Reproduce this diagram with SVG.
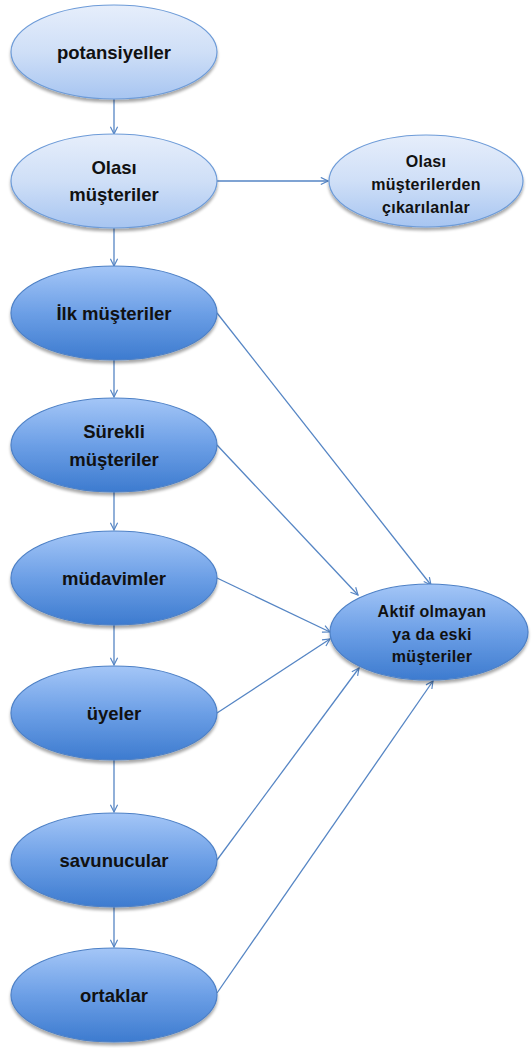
<svg xmlns="http://www.w3.org/2000/svg" width="532" height="1048" viewBox="0 0 532 1048">
  <defs>
    <linearGradient id="gLight" x1="0" y1="0" x2="0" y2="1">
      <stop offset="0" stop-color="#e6eefb"/>
      <stop offset="0.5" stop-color="#cfdff7"/>
      <stop offset="1" stop-color="#a7c5f1"/>
    </linearGradient>
    <linearGradient id="gDark" x1="0" y1="0" x2="0" y2="1">
      <stop offset="0" stop-color="#a4c6f7"/>
      <stop offset="0.5" stop-color="#6c9fe6"/>
      <stop offset="1" stop-color="#3d7bcf"/>
    </linearGradient>
    <filter id="shadow" x="-10%" y="-10%" width="120%" height="130%">
      <feGaussianBlur in="SourceAlpha" stdDeviation="1.6"/>
      <feOffset dx="0" dy="2.5" result="b"/>
      <feComponentTransfer><feFuncA type="linear" slope="0.35"/></feComponentTransfer>
      <feMerge><feMergeNode/><feMergeNode in="SourceGraphic"/></feMerge>
    </filter>
    <marker id="arrow" viewBox="0 0 10 10" markerWidth="9" markerHeight="9" refX="9" refY="5" orient="auto" markerUnits="userSpaceOnUse">
      <path d="M1,1 L9,5 L1,9" fill="none" stroke="#5585c4" stroke-width="1.3"/>
    </marker>
  </defs>
  <style>
    .light { fill: url(#gLight); stroke: #6d9bd8; stroke-width: 1.2; filter: url(#shadow); }
    .dark { fill: url(#gDark); stroke: #4d80c6; stroke-width: 1.2; filter: url(#shadow); }
    .lbl { font-family: "Liberation Sans", Arial, sans-serif; font-weight: bold; font-size: 18.5px; fill: #111; text-anchor: middle; }
    .sm { font-family: "Liberation Sans", Arial, sans-serif; font-weight: bold; font-size: 16px; fill: #111; text-anchor: middle; letter-spacing: 0.3px; }
    .edge { stroke: #5585c4; stroke-width: 1.3; fill: none; marker-end: url(#arrow); }
  </style>

  <!-- connectors -->
  <g id="connectors">
    <line class="edge" x1="114" y1="99" x2="114" y2="134"/>
    <line class="edge" x1="114" y1="228" x2="114" y2="266"/>
    <line class="edge" x1="114" y1="360" x2="114" y2="397"/>
    <line class="edge" x1="114" y1="492" x2="114" y2="530"/>
    <line class="edge" x1="114" y1="625" x2="114" y2="665"/>
    <line class="edge" x1="114" y1="760" x2="114" y2="812"/>
    <line class="edge" x1="114" y1="907" x2="114" y2="947"/>
    <line class="edge" x1="217" y1="181" x2="328" y2="181"/>
    <line class="edge" x1="217" y1="313" x2="431" y2="585"/>
    <line class="edge" x1="217" y1="445" x2="358" y2="595"/>
    <line class="edge" x1="217" y1="578" x2="330" y2="632"/>
    <line class="edge" x1="217" y1="713" x2="330" y2="639"/>
    <line class="edge" x1="217" y1="860" x2="359" y2="668"/>
    <line class="edge" x1="217" y1="993" x2="433" y2="681"/>
  </g>

  <g id="potansiyeller">
    <ellipse class="light" cx="114" cy="52" rx="103" ry="47"/>
    <text class="lbl" x="114" y="59">potansiyeller</text>
  </g>
  <g id="olasi-musteriler">
    <ellipse class="light" cx="114" cy="181" rx="103" ry="47"/>
    <text class="lbl" x="114" y="174">Olası</text>
    <text class="lbl" x="114" y="201">müşteriler</text>
  </g>
  <g id="olasi-musterilerden-cikarilanlar">
    <ellipse class="light" cx="426" cy="181" rx="97" ry="46"/>
    <text class="sm" x="426" y="167">Olası</text>
    <text class="sm" x="426" y="190">müşterilerden</text>
    <text class="sm" x="426" y="213">çıkarılanlar</text>
  </g>
  <g id="ilk-musteriler">
    <ellipse class="dark" cx="114" cy="313" rx="103" ry="47"/>
    <text class="lbl" x="114" y="320">İlk müşteriler</text>
  </g>
  <g id="surekli-musteriler">
    <ellipse class="dark" cx="114" cy="445" rx="103" ry="47"/>
    <text class="lbl" x="114" y="438">Sürekli</text>
    <text class="lbl" x="114" y="466">müşteriler</text>
  </g>
  <g id="mudavimler">
    <ellipse class="dark" cx="114" cy="578" rx="103" ry="47"/>
    <text class="lbl" x="114" y="585">müdavimler</text>
  </g>
  <g id="uyeler">
    <ellipse class="dark" cx="114" cy="713" rx="103" ry="47"/>
    <text class="lbl" x="114" y="720">üyeler</text>
  </g>
  <g id="savunucular">
    <ellipse class="dark" cx="114" cy="860" rx="103" ry="47"/>
    <text class="lbl" x="114" y="867">savunucular</text>
  </g>
  <g id="ortaklar">
    <ellipse class="dark" cx="114" cy="995" rx="103" ry="47"/>
    <text class="lbl" x="114" y="1002">ortaklar</text>
  </g>
  <g id="aktif-olmayan">
    <ellipse class="dark" cx="429" cy="632" rx="99" ry="48"/>
    <text class="sm" x="432" y="617">Aktif olmayan</text>
    <text class="sm" x="432" y="640">ya da eski</text>
    <text class="sm" x="432" y="662">müşteriler</text>
  </g>
</svg>
